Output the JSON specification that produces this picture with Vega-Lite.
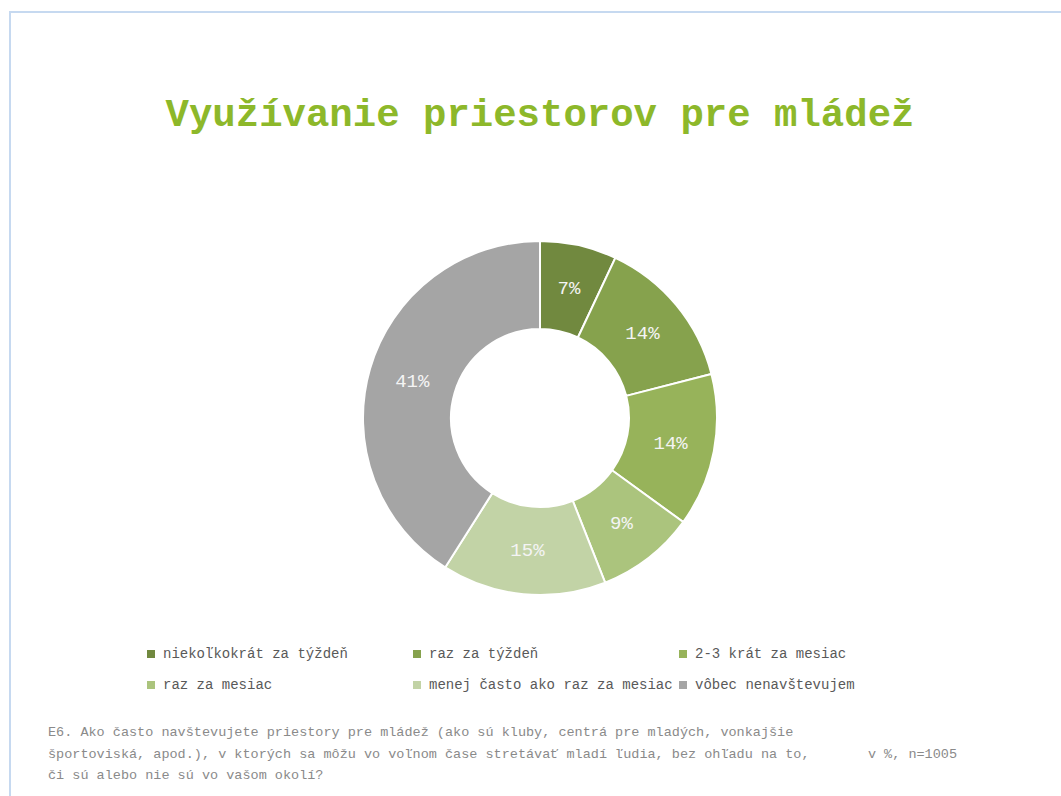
{
  "$schema": "https://vega.github.io/schema/vega-lite/v6.json",
  "background": "white",
  "padding": {"left": 9, "top": 11, "right": -8, "bottom": -27},
  "autosize": {"type": "pad"},
  "title": {
    "text": "Využívanie priestorov pre mládež",
    "orient": "top",
    "anchor": "middle",
    "font": "Liberation Mono",
    "fontSize": 39,
    "fontWeight": "bold",
    "color": "#8db82a",
    "offset": -123
  },
  "vconcat": [
    {
      "title": {
        "text": "v %, n=1005",
        "orient": "bottom",
        "anchor": "end",
        "dx": -114,
        "offset": -78,
        "font": "Liberation Mono",
        "fontSize": 13.5,
        "fontWeight": "normal",
        "color": "#8a8a8a"
      },
      "vconcat": [
        {
          "title": {
            "text": [
              "E6. Ako často navštevujete priestory pre mládež (ako sú kluby, centrá pre mladých, vonkajšie",
              "športoviská, apod.), v ktorých sa môžu vo voľnom čase stretávať mladí ľudia, bez ohľadu na to,",
              "či sú alebo nie sú vo vašom okolí?"
            ],
            "orient": "bottom",
            "anchor": "start",
            "dx": 38,
            "offset": -99,
            "lineHeight": 21.5,
            "font": "Liberation Mono",
            "fontSize": 13.5,
            "fontWeight": "normal",
            "color": "#8a8a8a"
          },
          "width": 1060,
          "height": 812,
          "view": {"stroke": "#c6d9f0", "strokeWidth": 2},
          "data": {
            "values": [
              {"odpoved": "niekoľkokrát za týždeň", "podiel": 0.07, "poradie": 1},
              {"odpoved": "raz za týždeň", "podiel": 0.14, "poradie": 2},
              {"odpoved": "2-3 krát za mesiac", "podiel": 0.14, "poradie": 3},
              {"odpoved": "raz za mesiac", "podiel": 0.09, "poradie": 4},
              {"odpoved": "menej často ako raz za mesiac", "podiel": 0.15, "poradie": 5},
              {"odpoved": "vôbec nenavštevujem", "podiel": 0.41, "poradie": 6}
            ]
          },
          "encoding": {
            "theta": {"field": "podiel", "type": "quantitative", "stack": true},
            "order": {"field": "poradie", "type": "quantitative"},
            "color": {
              "field": "odpoved",
              "type": "nominal",
              "sort": null,
              "scale": {
                "domain": ["niekoľkokrát za týždeň", "raz za týždeň", "2-3 krát za mesiac", "raz za mesiac", "menej často ako raz za mesiac", "vôbec nenavštevujem"],
                "range": ["#71893f", "#86a24d", "#97b35a", "#abc47d", "#c2d3a6", "#a5a5a5"]
              },
              "legend": {
                "orient": "none",
                "direction": "horizontal",
                "legendX": 134,
                "legendY": 635,
                "columns": 3,
                "gridAlign": "all",
                "columnPadding": 3,
                "rowPadding": 17,
                "symbolType": "square",
                "symbolSize": 64,
                "symbolStrokeWidth": 0,
                "symbolOpacity": 1,
                "labelFont": "Liberation Mono",
                "labelFontSize": 14,
                "labelColor": "#595959",
                "labelOffset": 5,
                "labelLimit": 400,
                "title": null
              }
            }
          },
          "layer": [
            {
              "mark": {"type": "arc", "innerRadius": 89, "outerRadius": 177, "stroke": "white", "strokeWidth": 2}
            },
            {
              "mark": {"type": "text", "radius": 133, "font": "Liberation Mono", "fontSize": 19, "fill": "#f4f4f4"},
              "encoding": {
                "text": {"field": "podiel", "type": "quantitative", "format": ".0%"}
              }
            }
          ]
        }
      ]
    }
  ]
}
